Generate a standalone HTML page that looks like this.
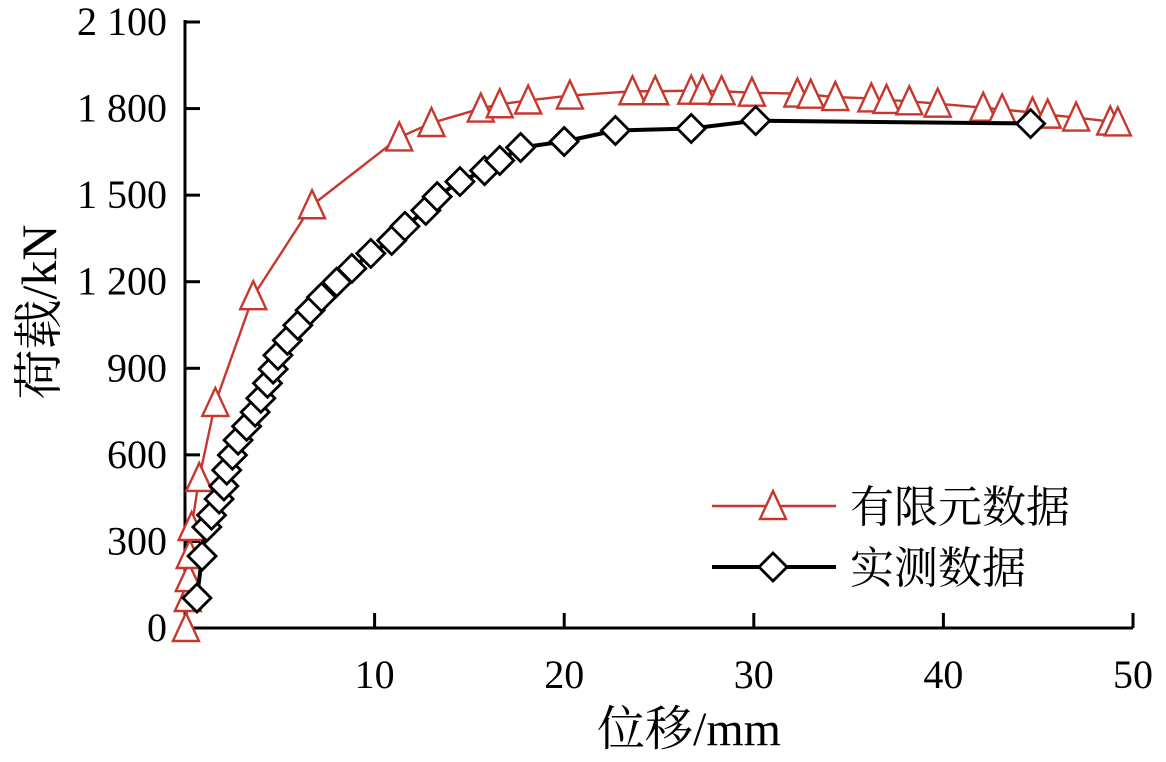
<!DOCTYPE html>
<html><head><meta charset="utf-8"><style>
body{margin:0;background:#fff}
svg text{font-family:"Liberation Serif","Noto Serif CJK SC",serif}
</style></head><body>
<svg id="c" width="1166" height="757" viewBox="0 0 1166 757" xmlns="http://www.w3.org/2000/svg">
<g id="axes"></g>
<g id="series"></g>
<g id="legend"></g>
</svg>
<script>
const xTicks=[10,20,30,40,50];
const xTickLabels=["10","20","30","40","50"];
const yTicks=[0,300,600,900,1200,1500,1800,2100];
const yTickLabels=["0","300","600","900","1 200","1 500","1 800","2 100"];
const feX=[0.05,0.15,0.2,0.25,0.35,0.75,1.6,3.6,6.7,11.3,13.0,15.6,16.6,18.1,20.3,23.6,24.8,26.7,27.3,28.3,29.9,32.3,33.0,34.3,36.2,37.0,38.2,39.7,42.1,43.1,44.7,45.5,47.0,48.8,49.2];
const feY=[0,104,173,253,350,520,780,1150,1465,1700,1750,1800,1815,1828,1845,1860,1860,1862,1862,1860,1855,1852,1848,1840,1835,1830,1825,1817,1803,1797,1786,1779,1769,1755,1752];
const expX=[0.63,0.9,1.15,1.4,1.8,2.05,2.2,2.5,2.8,3.25,3.7,4.0,4.35,4.65,4.9,5.4,5.95,6.6,7.2,8.0,8.8,9.8,10.9,11.6,12.7,13.3,14.5,15.8,16.6,17.7,20.0,22.7,26.7,30.1,44.6];
const expY=[104,249,350,391,447,492,547,599,651,699,748,796,848,897,945,997,1049,1101,1146,1198,1246,1298,1343,1392,1447,1495,1547,1585,1620,1665,1686,1724,1731,1758,1748];
const NS="http://www.w3.org/2000/svg";
const X0=185,X1=1133,Y0=628,Y1=22;
function sx(v){return X0+(v/50)*(X1-X0);}
function sy(v){return Y0-(v/2100)*(Y0-Y1);}
function mk(tag,attrs,parent){const e=document.createElementNS(NS,tag);for(const k in attrs)e.setAttribute(k,attrs[k]);parent.appendChild(e);return e;}
const axes=document.getElementById('axes'),series=document.getElementById('series'),legend=document.getElementById('legend');
let e;
e=mk('line',{x1:X0,y1:Y1-2,x2:X0,y2:Y0+1,stroke:'#000','stroke-width':3},axes);


e=mk('line',{x1:X0-1,y1:Y0,x2:X1,y2:Y0,stroke:'#000','stroke-width':3},axes);


yTicks.forEach((v,i)=>{
 const y=sy(v);
 if(v>0){e=mk('line',{x1:X0,y1:y,x2:X0+15,y2:y,stroke:'#000','stroke-width':3},axes);
 
 }
 e=mk('text',{x:167,y:y+13,'text-anchor':'end','font-size':40},axes);e.textContent=yTickLabels[i];
 
 
});
xTicks.forEach((v,i)=>{
 const x=sx(v);
 e=mk('line',{x1:x,y1:Y0,x2:x,y2:Y0-15,stroke:'#000','stroke-width':3},axes);
 
 
 e=mk('text',{x:x,y:688,'text-anchor':'middle','font-size':40},axes);e.textContent=xTickLabels[i];
 
 
});
e=mk('text',{x:689,y:745,'text-anchor':'middle','font-size':48},axes);e.textContent='位移/mm';


e=mk('text',{x:0,y:0,'text-anchor':'middle','font-size':50,transform:'translate(56,312) rotate(-90)'},axes);e.textContent='荷载/kN';


function tri(x,y,p){const s=13;return mk('polygon',{points:`${x},${y-s-2} ${x-s},${y+s} ${x+s},${y+s}`,fill:'#fff',stroke:'#c8372d','stroke-width':2.4},p);}
function dia(x,y,p){const s=14;return mk('polygon',{points:`${x},${y-s} ${x+s},${y} ${x},${y+s} ${x-s},${y}`,fill:'#fff',stroke:'#000','stroke-width':2.8},p);}
e=mk('polyline',{points:feX.map((v,i)=>sx(v)+','+sy(feY[i])).join(' '),fill:'none',stroke:'#c8372d','stroke-width':2.4},series);


feX.forEach((v,i)=>{e=tri(sx(v),sy(feY[i]),series);
 
 });
e=mk('polyline',{points:expX.map((v,i)=>sx(v)+','+sy(expY[i])).join(' '),fill:'none',stroke:'#000','stroke-width':4},series);


expX.forEach((v,i)=>{e=dia(sx(v),sy(expY[i]),series);
 
 });
e=mk('line',{x1:712,y1:506,x2:836,y2:506,stroke:'#c8372d','stroke-width':2.4},legend);


e=tri(773,506,legend);


e=mk('text',{x:850,y:522,'font-size':44},legend);e.textContent='有限元数据';


e=mk('line',{x1:712,y1:567,x2:836,y2:567,stroke:'#000','stroke-width':4},legend);


e=dia(773,567,legend);


e=mk('text',{x:850,y:583,'font-size':44},legend);e.textContent='实测数据';


</script>
</body></html>
